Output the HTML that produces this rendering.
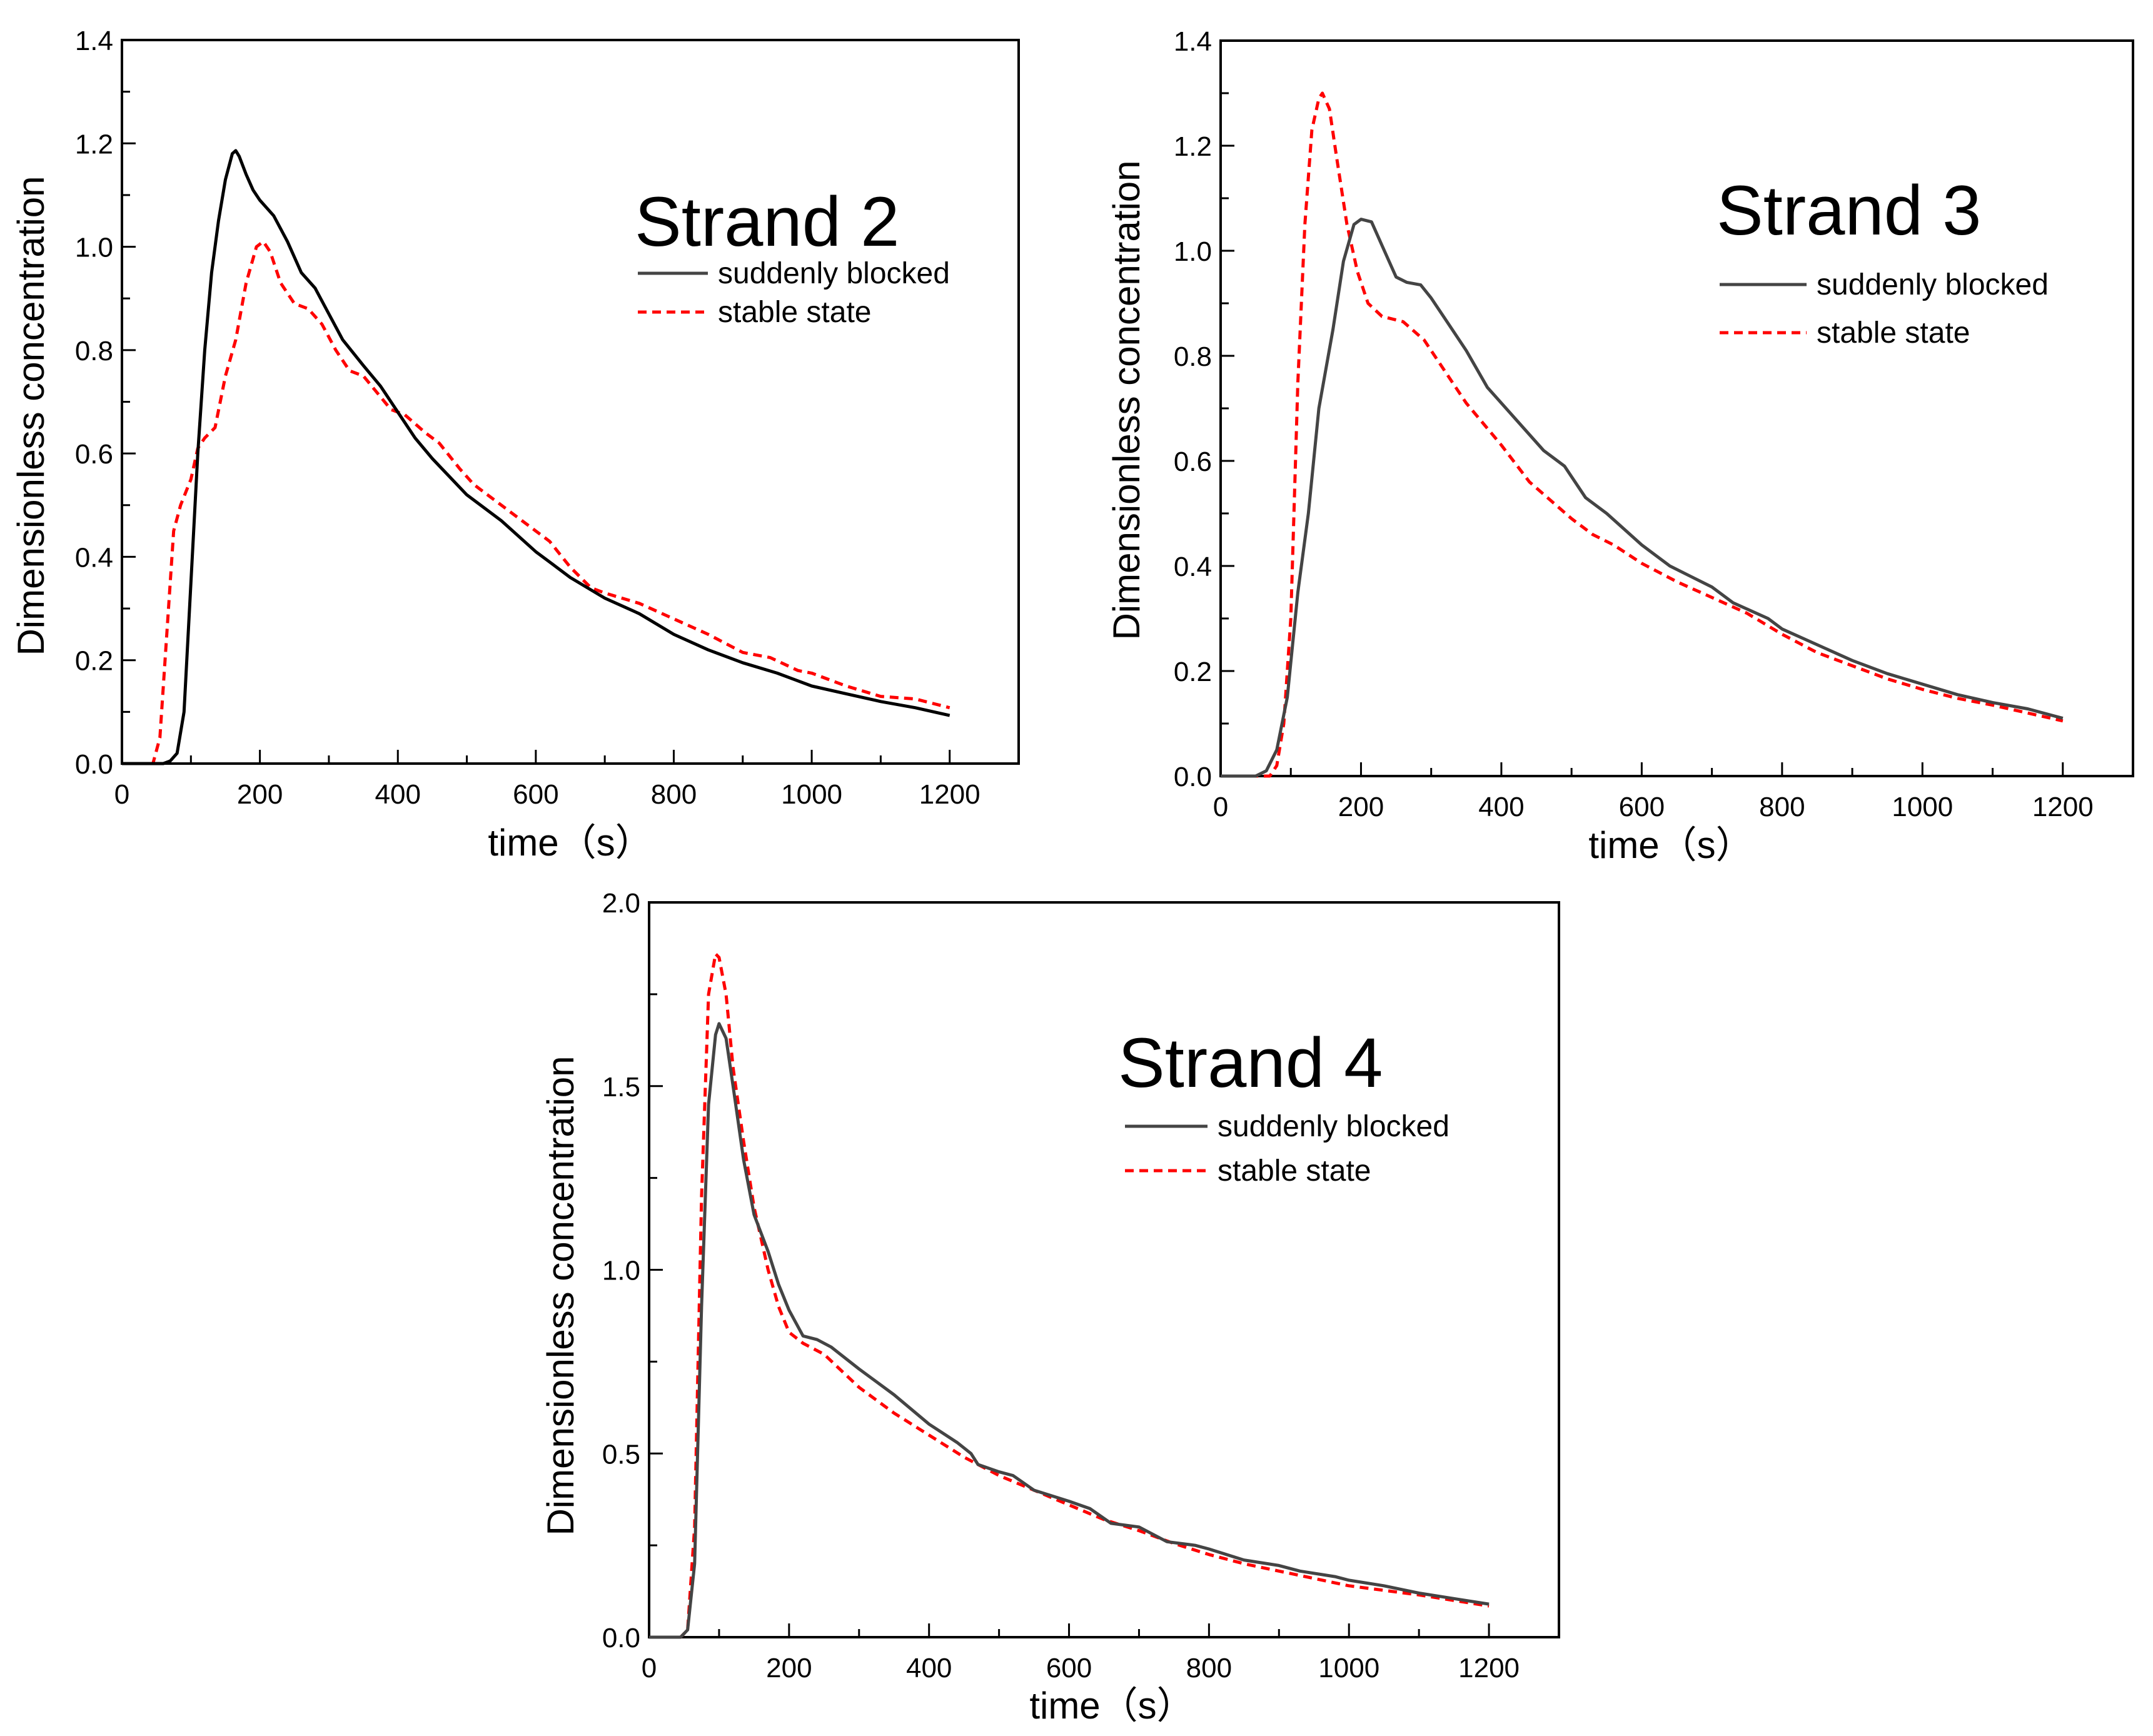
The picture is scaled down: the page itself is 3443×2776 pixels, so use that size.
<!DOCTYPE html>
<html><head><meta charset="utf-8"><style>
html,body{margin:0;padding:0;background:#fff}
svg{display:block}
text{font-family:"Liberation Sans","Noto Sans CJK SC",sans-serif;fill:#000}
</style></head><body>
<svg id="chart" width="3443" height="2776" viewBox="0 0 3443 2776" xmlns="http://www.w3.org/2000/svg"></svg>
<script>
// ---- Strand 2 data ----
const s2BlockedX=[0,60,70,80,90,100,110,120,130,140,150,160,165,170,180,190,200,220,240,260,280,300,320,350,375,400,425,450,500,550,600,625,650,700,750,800,850,900,950,1000,1050,1100,1150,1200];
const s2BlockedY=[0,0,0.005,0.02,0.1,0.35,0.6,0.8,0.95,1.05,1.13,1.18,1.186,1.175,1.14,1.11,1.09,1.06,1.01,0.95,0.92,0.87,0.82,0.77,0.73,0.68,0.63,0.59,0.52,0.47,0.41,0.385,0.36,0.32,0.29,0.25,0.22,0.195,0.175,0.15,0.135,0.12,0.108,0.093];
const s2StableX=[0,45,55,65,75,85,100,110,120,135,150,165,180,195,205,215,230,250,270,290,310,330,350,390,410,440,460,490,510,550,600,620,650,680,700,750,800,850,900,940,980,1000,1050,1100,1150,1200];
const s2StableY=[0,0,0.05,0.25,0.45,0.5,0.55,0.61,0.63,0.65,0.75,0.82,0.93,1.0,1.01,0.99,0.93,0.89,0.88,0.85,0.8,0.76,0.75,0.685,0.675,0.64,0.62,0.57,0.54,0.5,0.45,0.43,0.38,0.34,0.33,0.31,0.28,0.25,0.215,0.205,0.18,0.175,0.15,0.13,0.125,0.108];
// ---- Strand 3 data ----
const s3BlockedX=[0,50,65,80,95,110,125,140,160,175,190,200,215,230,250,265,285,300,325,350,380,420,460,490,520,550,600,640,670,700,730,780,800,850,900,950,1000,1050,1100,1150,1200];
const s3BlockedY=[0,0,0.01,0.05,0.15,0.35,0.5,0.7,0.85,0.98,1.05,1.06,1.055,1.01,0.95,0.94,0.935,0.91,0.86,0.81,0.74,0.68,0.62,0.59,0.53,0.5,0.44,0.4,0.38,0.36,0.33,0.3,0.28,0.25,0.22,0.195,0.175,0.155,0.14,0.128,0.11];
const s3StableX=[0,70,80,90,100,110,120,130,140,145,155,165,180,195,210,230,260,290,320,350,400,440,500,530,560,600,650,700,750,800,850,900,950,1000,1050,1100,1150,1200];
const s3StableY=[0,0,0.02,0.1,0.3,0.75,1.05,1.23,1.29,1.3,1.27,1.18,1.05,0.96,0.9,0.875,0.865,0.83,0.77,0.71,0.63,0.56,0.49,0.46,0.44,0.405,0.37,0.34,0.31,0.27,0.235,0.21,0.185,0.165,0.148,0.135,0.12,0.105];
// ---- Strand 4 data ----
const s4BlockedX=[0,45,55,65,75,85,95,100,110,120,135,150,170,185,200,220,240,260,300,350,400,440,460,470,500,520,550,600,630,660,700,740,780,800,850,900,930,980,1000,1050,1100,1150,1200];
const s4BlockedY=[0,0,0.02,0.2,0.9,1.45,1.64,1.67,1.63,1.5,1.3,1.15,1.05,0.96,0.89,0.82,0.81,0.79,0.73,0.66,0.58,0.53,0.5,0.47,0.45,0.44,0.4,0.37,0.35,0.31,0.3,0.26,0.25,0.24,0.21,0.195,0.18,0.165,0.155,0.14,0.12,0.105,0.09];
const s4StableX=[0,45,55,65,75,85,95,100,110,120,135,150,170,185,200,220,250,300,350,400,450,500,550,600,650,700,750,800,850,900,950,1000,1100,1200];
const s4StableY=[0,0,0.02,0.3,1.2,1.75,1.86,1.85,1.75,1.55,1.35,1.17,1.0,0.9,0.83,0.8,0.77,0.68,0.61,0.55,0.49,0.44,0.4,0.36,0.32,0.29,0.255,0.225,0.2,0.18,0.16,0.14,0.115,0.085];
const xTickLabels=["0","200","400","600","800","1000","1200"];
const yTickLabels12=["0.0","0.2","0.4","0.6","0.8","1.0","1.2","1.4"];
const yTickLabels3=["0.0","0.5","1.0","1.5","2.0"];

const NS="http://www.w3.org/2000/svg";
const svg=document.getElementById('chart');
function mk(tag,attrs,parent){const e=document.createElementNS(NS,tag);for(const k in attrs)e.setAttribute(k,attrs[k]);(parent||svg).appendChild(e);return e;}

function panel(cfg){
  const g=mk('g',{});
  
  
  const L=cfg.L,R=cfg.R,T=cfg.T,B=cfg.B;
  const sx=v=>L+(v/1300)*(R-L);
  const sy=v=>B-(v/cfg.ymax)*(B-T);
  const box=mk('rect',{x:L,y:T,width:R-L,height:B-T,fill:'none',stroke:'#000','stroke-width':4},g);
  
  
  for(let v=0;v<=1300;v+=100){
    const major=v%200===0;
    const t=mk('line',{x1:sx(v),x2:sx(v),y1:B,y2:B-(major?22:13),stroke:'#000','stroke-width':3},g);
    
    
  }
  xTickLabels.forEach(s=>{
    const v=+s;
    const t=mk('text',{x:sx(v),y:B+64,'font-size':44,'text-anchor':'middle'},g);
    t.textContent=s;
    
    
  });
  const nMinor=Math.round(cfg.ymax/cfg.minor);
  for(let i=0;i<=nMinor;i++){
    const v=i*cfg.minor;
    const major=i%2===0;
    const t=mk('line',{x1:L,x2:L+(major?22:13),y1:sy(v),y2:sy(v),stroke:'#000','stroke-width':3},g);
    
    
  }
  cfg.yLabels.forEach(s=>{
    const v=+s;
    const t=mk('text',{x:L-14,y:sy(v)+16,'font-size':44,'text-anchor':'end'},g);
    t.textContent=s;
    
    
  });
  const xt=mk('text',{x:cfg.xtX,y:cfg.xtY,'font-size':60,'text-anchor':'middle'},g);
  xt.textContent='time（s）';
  
  
  const yt=mk('text',{x:0,y:0,'font-size':60,'text-anchor':'middle',transform:`translate(${cfg.ytX},${cfg.ytY}) rotate(-90)`},g);
  yt.textContent='Dimensionless concentration';
  
  
  const pts=(X,Y)=>X.map((x,i)=>sx(x).toFixed(1)+','+sy(Y[i]).toFixed(1)).join(' ');
  const red=mk('polyline',{points:pts(cfg.sX,cfg.sY),fill:'none',stroke:'#ff0000','stroke-width':5,'stroke-dasharray':'14,9','stroke-linejoin':'round'},g);
  
  
  const blk=mk('polyline',{points:pts(cfg.bX,cfg.bY),fill:'none',stroke:cfg.bColor,'stroke-width':5,'stroke-linejoin':'round'},g);
  
  
  const ti=mk('text',{x:cfg.tX,y:cfg.tY,'font-size':112},g);
  ti.textContent=cfg.title;
  
  
  const l1=mk('line',{x1:cfg.lx1,x2:cfg.lx2,y1:cfg.ly1,y2:cfg.ly1,stroke:cfg.bColor==='#000'?'#444':cfg.bColor,'stroke-width':5},g);
  
  
  const t1=mk('text',{x:cfg.lx2+16,y:cfg.ly1+16,'font-size':48},g);
  t1.textContent='suddenly blocked';
  
  
  const l2=mk('line',{x1:cfg.lx1,x2:cfg.lx2,y1:cfg.ly2,y2:cfg.ly2,stroke:'#ff0000','stroke-width':5,'stroke-dasharray':'14,9'},g);
  
  
  const t2=mk('text',{x:cfg.lx2+16,y:cfg.ly2+16,'font-size':48},g);
  t2.textContent='stable state';
  
  
}

panel({name:'strand-2-chart',L:195,R:1629,T:64,B:1221,ymax:1.4,minor:0.1,yLabels:yTickLabels12,
  bX:s2BlockedX,bY:s2BlockedY,sX:s2StableX,sY:s2StableY,bColor:'#000',
  xtX:912,xtY:1368,ytX:70,ytY:665,title:'Strand 2',tX:1015,tY:393,lx1:1020,lx2:1132,ly1:437,ly2:499});
panel({name:'strand-3-chart',L:1952,R:3411,T:65,B:1241,ymax:1.4,minor:0.1,yLabels:yTickLabels12,
  bX:s3BlockedX,bY:s3BlockedY,sX:s3StableX,sY:s3StableY,bColor:'#444',
  xtX:2672,xtY:1372,ytX:1822,ytY:640,title:'Strand 3',tX:2745,tY:375,lx1:2750,lx2:2889,ly1:455,ly2:532});
panel({name:'strand-4-chart',L:1038,R:2493,T:1443,B:2618,ymax:2.0,minor:0.25,yLabels:yTickLabels3,
  bX:s4BlockedX,bY:s4BlockedY,sX:s4StableX,sY:s4StableY,bColor:'#444',
  xtX:1778,xtY:2748,ytX:917,ytY:2072,title:'Strand 4',tX:1788,tY:1738,lx1:1799,lx2:1931,ly1:1801,ly2:1872});
</script>
</body></html>
